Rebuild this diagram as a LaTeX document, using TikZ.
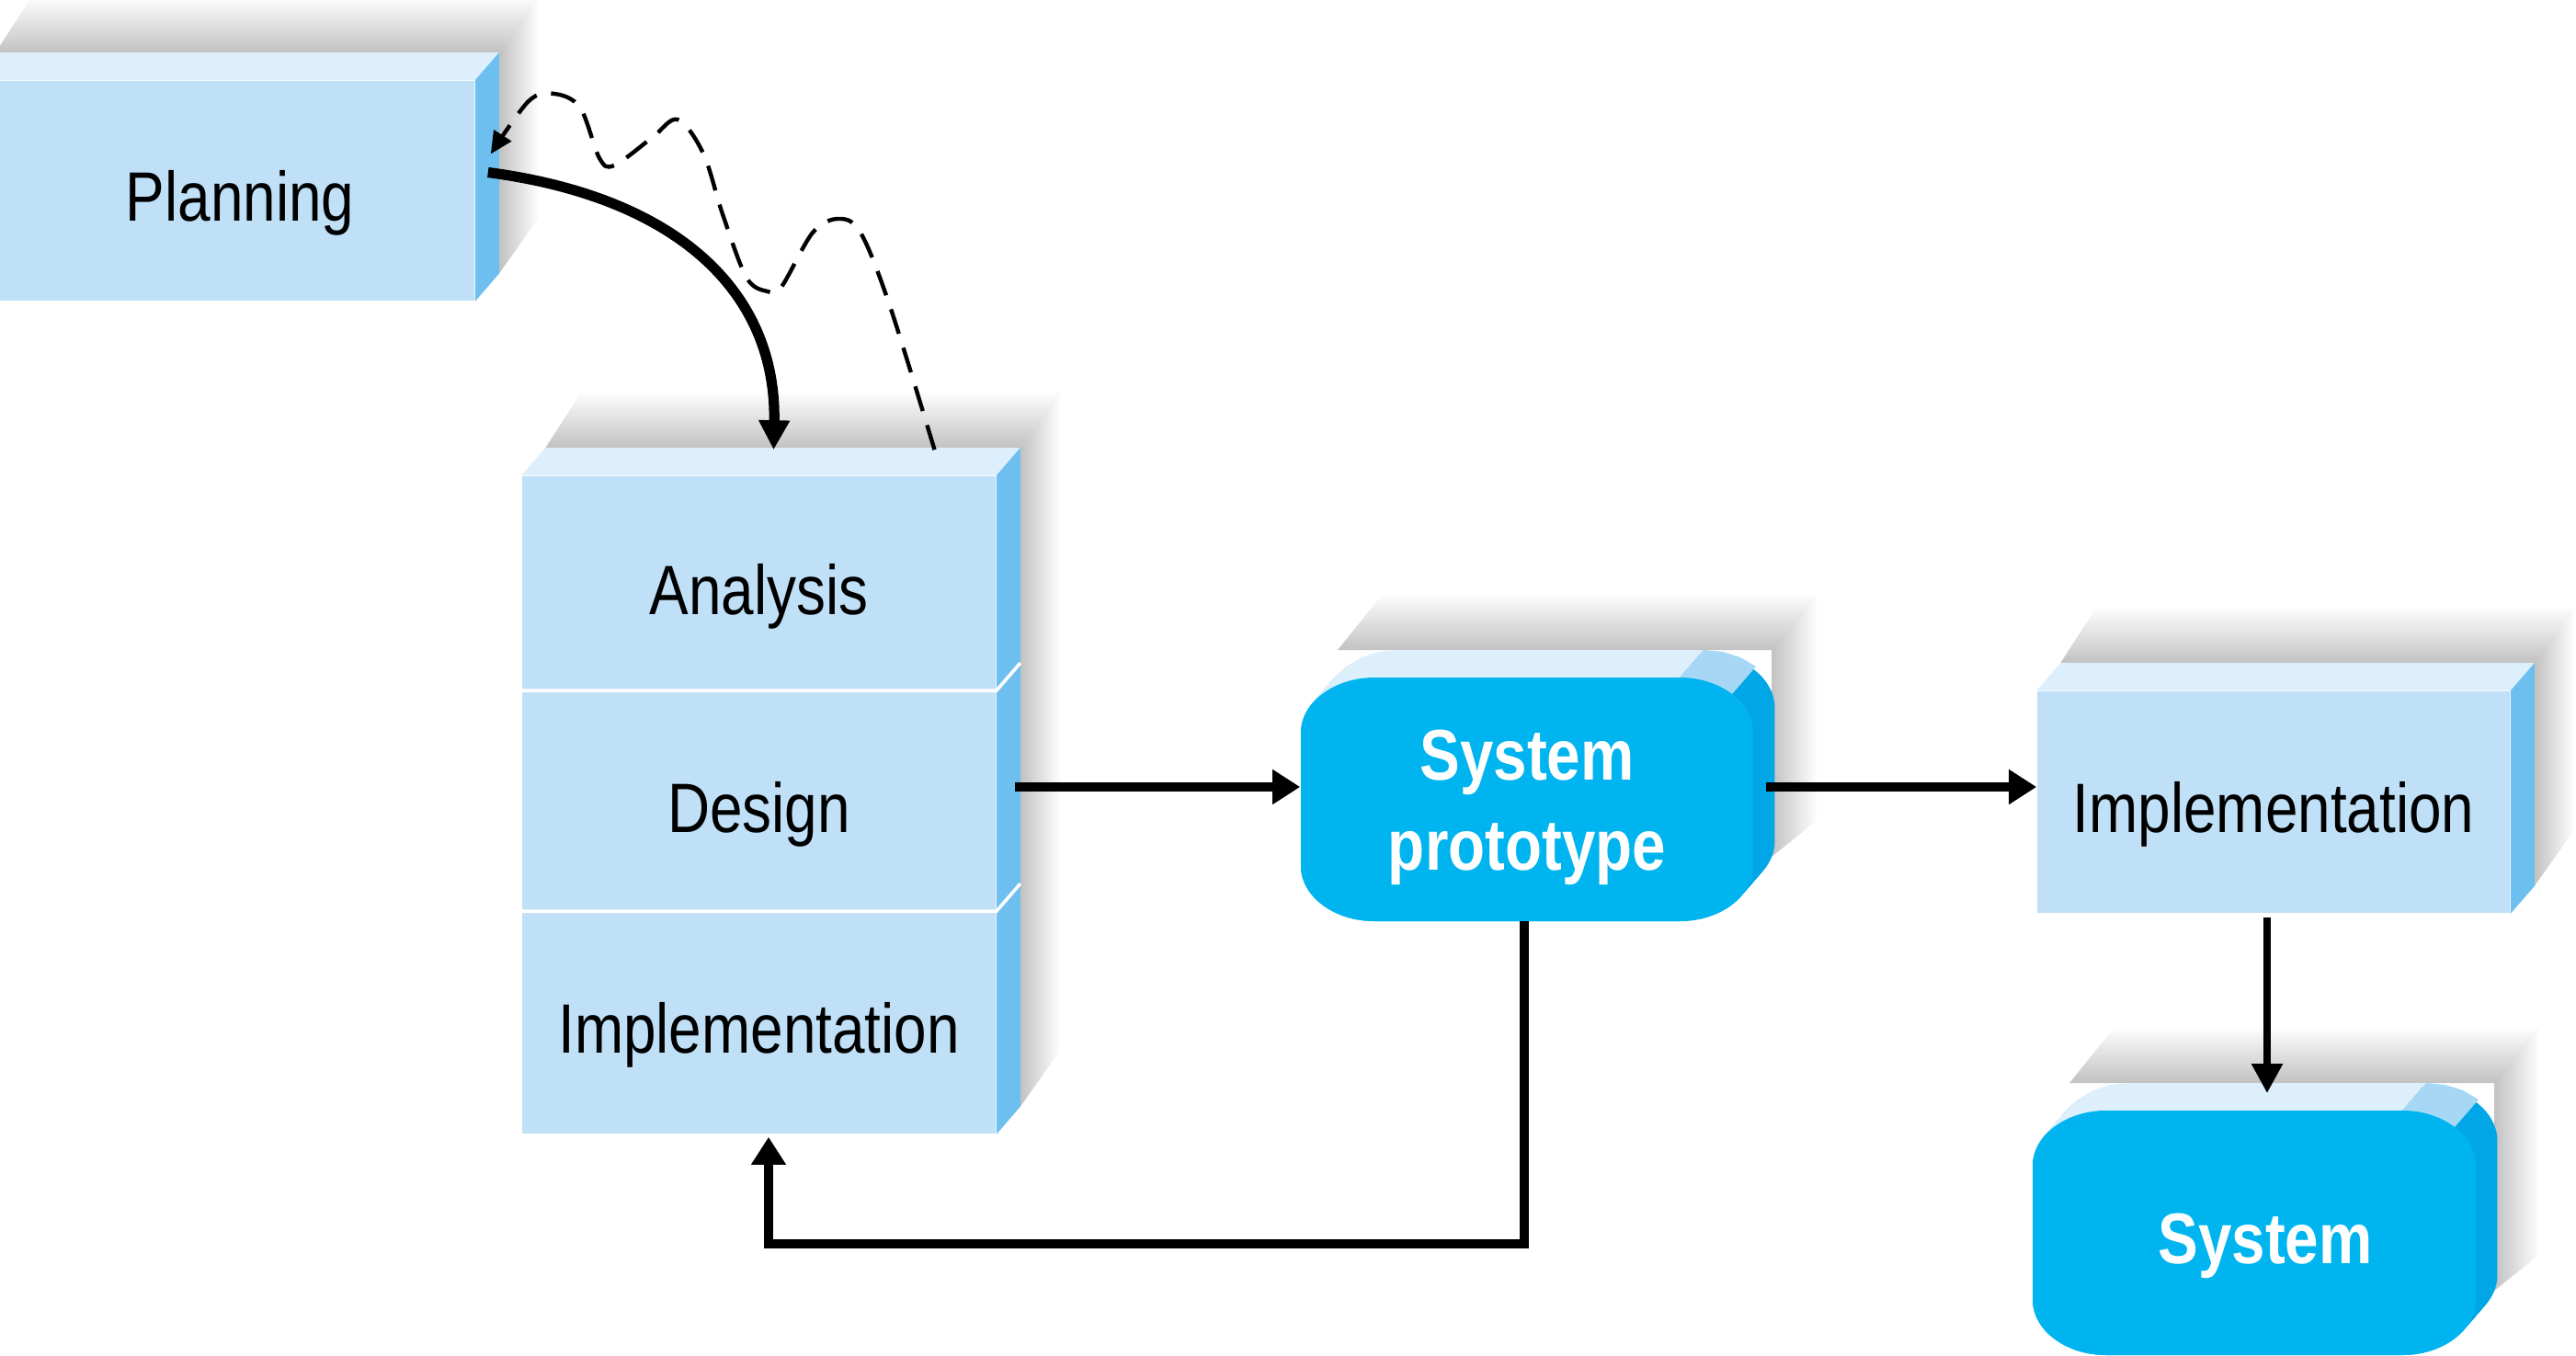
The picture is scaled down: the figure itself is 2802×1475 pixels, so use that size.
\documentclass[tikz,border=0pt]{standalone}
\usepackage{fontspec}
\newfontfamily\lab{Liberation Sans}[FakeStretch=0.84]
\usetikzlibrary{calc,arrows.meta}
\pgfdeclarelayer{shadowlayer}
\pgfdeclarelayer{bg}
\pgfsetlayers{shadowlayer,bg,main}
\definecolor{frontblue}{HTML}{BFE0F7}
\definecolor{topblue}{HTML}{DDEFFC}
\definecolor{sideblue}{HTML}{6CBFEF}
\definecolor{cyanfront}{HTML}{00B5EF}
\definecolor{cyanside}{HTML}{00A6E6}
\definecolor{cyantop}{HTML}{DCEFFB}
\definecolor{cyancorner}{HTML}{A6D8F5}
\definecolor{shadowgray}{gray}{0.76}
\newcommand\rpath[4]{(#1+80,#2) -- (#3-80,#2) .. controls (#3-36,#2) and (#3,#2+27) .. (#3,#2+60) -- (#3,#4-60) .. controls (#3,#4-27) and (#3-36,#4) .. (#3-80,#4) -- (#1+80,#4) .. controls (#1+36,#4) and (#1,#4-27) .. (#1,#4-60) -- (#1,#2+60) .. controls (#1,#2+27) and (#1+36,#2) .. (#1+80,#2) -- cycle}
\newcommand\rectcube[2]{%
 \begin{pgfonlayer}{shadowlayer}
  \shade[top color=white,bottom color=shadowgray] ($(#1.north west)+(26,-30)$) -- ($(#1.north west)+(66,-92)$) -- ($(#1.north east)+(70,-92)$) -- ($(#1.north east)+(26,-30)$) -- cycle;
  \shade[left color=shadowgray,right color=white] ($(#1.north east)+(26,-30)$) -- ($(#1.north east)+(70,-92)$) -- ($(#2.south east)+(70,-92)$) -- ($(#2.south east)+(26,-30)$) -- cycle;
 \end{pgfonlayer}
 \begin{pgfonlayer}{bg}
  \fill[topblue] (#1.north west) -- ($(#1.north west)+(26,-30)$) -- ($(#1.north east)+(26,-30)$) -- (#1.north east) -- cycle;
  \fill[sideblue] (#1.north east) -- ($(#1.north east)+(26,-30)$) -- ($(#2.south east)+(26,-30)$) -- (#2.south east) -- cycle;
 \end{pgfonlayer}}
\newcommand\roundcube[4]{%
 \begin{pgfonlayer}{shadowlayer}
  \shade[top color=white,bottom color=shadowgray] (#1+40,#2-30) -- (#1+90,#2-92) -- (#3+70,#2-92) -- (#3+26,#2-30) -- cycle;
  \shade[left color=shadowgray,right color=white] (#3+20,#2-30) -- (#3+70,#2-92) -- (#3+70,#4-110) -- (#3+20,#4-70) -- cycle;
 \end{pgfonlayer}
 \begin{pgfonlayer}{bg}
  \foreach \t in {0,0.1,...,1.0} {\fill[cyanside,shift={(26*\t,-30*\t)}] \rpath{#1}{#2}{#3}{#4};}
  \fill[cyantop] (#1+13,#2+27) -- (#1+39,#2-3) -- (#1+49,#2-12) -- (#1+66,#2-22) -- (#1+85,#2-28) -- (#1+106,#2-30) -- (#3-54,#2-30) -- (#3-80,#2) -- (#3-80,#2+27) -- cycle;
  \fill[cyancorner] (#3-80,#2) -- (#3-59,#2+2) -- (#3-40,#2+8) -- (#3-23,#2+18) -- (#3+3,#2-12) -- (#3-14,#2-22) -- (#3-33,#2-28) -- (#3-54,#2-30) -- cycle;
  \fill[cyanfront] \rpath{#1}{#2}{#3}{#4};
 \end{pgfonlayer}}
\begin{document}
\begin{tikzpicture}[x=0.25pt,y=-0.25pt,
  rectbox/.style={fill=frontblue,draw=none,inner sep=0pt,font=\lab\fontsize{19}{23}\selectfont,text height=16.5pt,text depth=0pt},
  roundlabel/.style={draw=none,inner sep=0pt,text=white,font=\lab\bfseries\fontsize{19.5}{24.5}\selectfont,align=center},
  arr/.style={line width=2.3pt,-{Triangle[length=7.5pt,width=9pt]}},
  thinarr/.style={line width=2pt,-{Triangle[length=8pt,width=8pt]}},
  thickarr/.style={line width=2.8pt,-{Triangle[length=8pt,width=8pt]}},
  dasharr/.style={line width=1.1pt,dash pattern=on 7pt off 4pt,-{Triangle[length=6pt,width=5.5pt]}},
  divider/.style={white,line width=0.9pt}]
\useasboundingbox (0,0) rectangle (2802,1475);

% nodes
\node[rectbox,minimum width=136.5pt,minimum height=59.75pt] (plan) at (243,207.5) {\hspace*{9pt}Planning};
\node[rectbox,minimum width=128.75pt,minimum height=58.5pt] (ana) at (825.5,635) {Analysis};
\node[rectbox,minimum width=128.75pt,minimum height=60pt] (des) at (825.5,872) {Design};
\node[rectbox,minimum width=128.75pt,minimum height=60.25pt] (imp1) at (825.5,1112.5) {Implementation};
\node[rectbox,minimum width=128.5pt,minimum height=60.25pt] (imp2) at (2473,872.5) {Implementation};
\node[roundlabel,minimum width=123pt,minimum height=66.25pt] (proto) at (1661,878) {System\\prototype};
\node[roundlabel,minimum width=120.5pt,minimum height=66.5pt,text height=16.5pt,text depth=0pt] (sys) at (2452,1341) {\hspace*{6pt}System};

% 3D faces and shadows
\rectcube{plan}{plan}
\rectcube{ana}{imp1}
\rectcube{imp2}{imp2}
\roundcube{1415}{737}{1907}{1002}
\roundcube{2211}{1208}{2693}{1474}

% dividers in the stack
\draw[divider] (des.north west) -- (des.north east) -- ($(des.north east)+(26,-30)$);
\draw[divider] (imp1.north west) -- (imp1.north east) -- ($(imp1.north east)+(26,-30)$);

% connectors
\coordinate (pa) at ([shift={(14,-20)}]plan.east);
\coordinate (aa) at ([shift={(16,-28)}]ana.north);
\draw[thickarr] (pa) .. controls (740,215) and (845,320) .. (aa);

\coordinate (ds) at ([shift={(191,-28)}]ana.north);
\coordinate (de) at ([shift={(17,-40)}]plan.east);
\draw[dasharr] plot[smooth,tension=0.55] coordinates {(ds) (968,333) (936,253) (912,238) (884,253) (850,312) (835,317) (812,302) (786,233) (765,167) (737,130) (709,150) (668,180) (652,172) (631,117) (603,102) (575,110) (de)};

\coordinate (d1) at ([shift={(20,-16)}]des.east);
\draw[arr] (d1) -- (d1 -| proto.west);
\coordinate (p1) at (1921,856);
\draw[arr] (p1) -- (p1 -| imp2.west);
\coordinate (i1) at ([shift={(-7,4)}]imp2.south);
\coordinate (s1) at ([shift={(14,-18)}]sys.north);
\draw[thinarr] (i1) -- (i1 |- s1);
\coordinate (f0) at (1658,1002);
\coordinate (f1) at ([shift={(10.5,3)}]imp1.south);
\draw[arr] (f0) -- ++(0,351) -| (f1);
\end{tikzpicture}
\end{document}
